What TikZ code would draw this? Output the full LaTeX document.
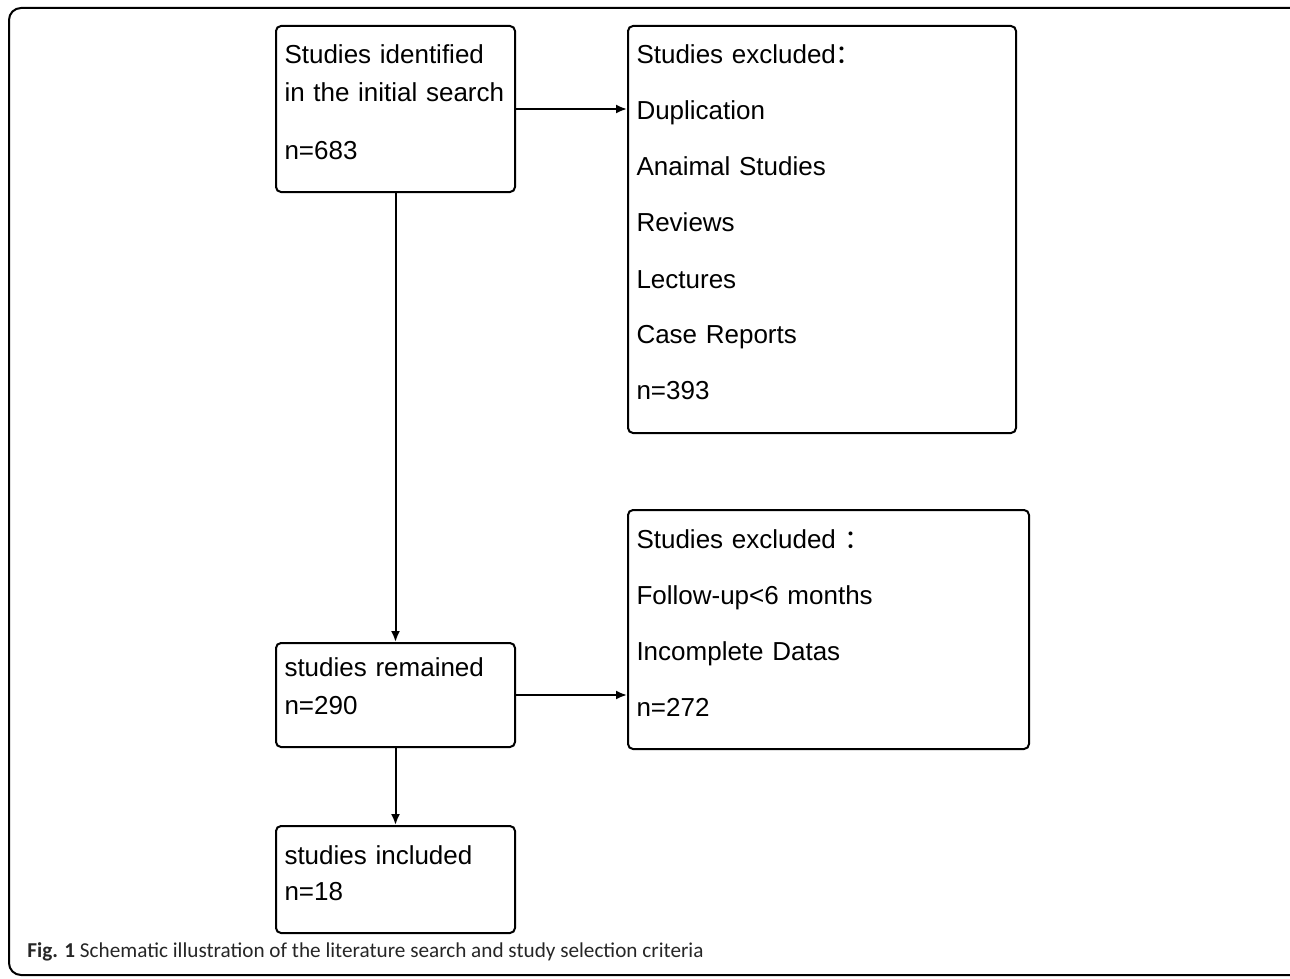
\documentclass[tikz,border=0pt]{standalone}
\usepackage{fontspec}
\setmainfont{Liberation Sans}
\newfontfamily\capfont{Carlito}
\newfontfamily\cjk{Noto Sans CJK SC}
\usepackage{tikz}
\usetikzlibrary{arrows.meta}

\begin{document}
\begin{tikzpicture}[x=0.5pt,y=-0.5pt]
        \tikzset{haut/.store in=\hautligne,haut=19pt,
                etape/.style={draw,line width=1pt,rounded corners=2.5pt,anchor=north west,
                align=left,inner xsep=4.25pt,inner ysep=0pt,font=\fontsize{13}{19}\selectfont,
                execute at begin node=\rule{0pt}{\hautligne},
                execute at end node=\rule[-16.5pt]{0pt}{0pt}},
                fleche/.style={-{Latex[length=5.5pt,width=4.5pt]},line width=1pt}}
        \useasboundingbox (0,0) rectangle (1290,979);
        \clip (0,0) rectangle (1290,979);
        \draw[line width=1pt,rounded corners=6pt] (9,8) rectangle (1310,975);
        \node[etape,text width=111pt] (ID) at (275,25) {Studies identified\\in the initial search\\[9.5pt]n=683};
        \node[etape,text width=185.5pt,font=\fontsize{13}{28}\selectfont] (EX1) at (627,25) {Studies excluded{\cjk ：}\\Duplication\\Anaimal Studies\\Reviews\\Lectures\\Case Reports\\n=393};
        \node[etape,haut=16.5pt,text width=111pt] (RM) at (275,642) {studies remained\\n=290};
        \node[etape,text width=192pt,font=\fontsize{13}{28}\selectfont] (EX2) at (627,509) {Studies excluded {\cjk ：}\\Follow-up<6 months\\Incomplete Datas\\n=272};
        \node[etape,text width=111pt,font=\fontsize{13}{18}\selectfont] (IN) at (275,825) {studies included\\n=18};
        \draw[fleche] (ID) -- (ID -| EX1.west);
        \draw[fleche] (ID) -- (RM);
        \draw[fleche] (RM) -- (RM -| EX2.west);
        \draw[fleche] (RM) -- (IN);
        \node[anchor=west,inner sep=0pt,font=\capfont\fontsize{10.6}{12}\selectfont,text=black!85] (CAP) at (27,952) {\textbf{Fig. 1} Schematic illustration of the literature search and study selection criteria};
\end{tikzpicture}
\end{document}
